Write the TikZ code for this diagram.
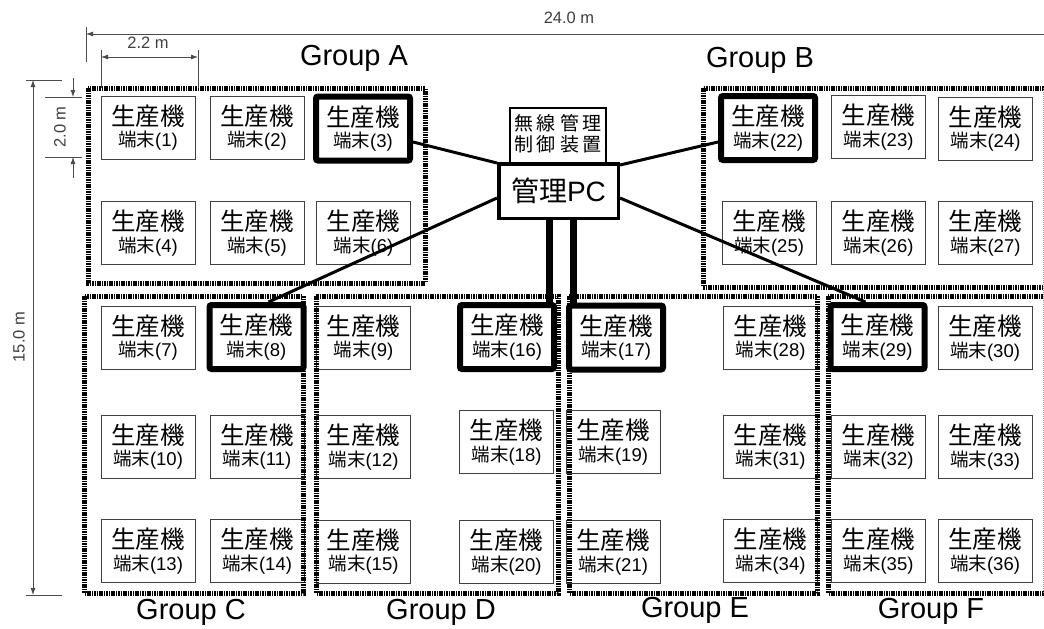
\documentclass[tikz,border=0pt]{standalone}
\usepackage{fontspec}
\setmainfont{Liberation Sans}
\newfontfamily\jp{Noto Sans CJK JP}
\usetikzlibrary{arrows.meta,calc}
\newcommand\mlab[1]{{\jp\fontsize{24.5}{21.5}\selectfont 生産機}\\{\fontsize{18.5}{21.5}\selectfont{\jp 端末}(#1)}}
\tikzset{
 mbox/.style={draw=black!75, line width=0.9pt, fill=white, minimum width=94pt, minimum height=63pt, inner sep=0pt, align=center, font=\fontsize{24.5}{21.5}\selectfont},
 tbox/.style={mbox, draw=black, line width=6pt, minimum height=64pt, rounded corners=2pt},
 grp/.style={draw=black, line width=5pt, dash pattern=on 1.6pt off 0.8pt},
 glabel/.style={font=\fontsize{29}{29}\selectfont},
 dim/.style={draw=black!70, line width=0.8pt},
 dimtip/.style={dim, -{Latex[length=7pt,width=5pt]}},
 dimtext/.style={font=\fontsize{16.5}{16.5}\selectfont, text=black!75, inner sep=0pt},
 link/.style={line width=3pt},
 bar/.style={line width=7pt},
}
\begin{document}
\begin{tikzpicture}[x=1pt,y=-1pt]
\useasboundingbox (0,0) rectangle (1044,629);
\fill[white] (0,0) rectangle (1044,629);

% machines
\node[mbox] (m1) at (148,127.5) {\mlab{1}};
\node[mbox] (m2) at (257,127.5) {\mlab{2}};
\node[tbox] (m3) at (363,128.5) {\mlab{3}};
\node[mbox] (m4) at (148,233) {\mlab{4}};
\node[mbox] (m5) at (257,233) {\mlab{5}};
\node[mbox] (m6) at (363.5,233) {\mlab{6}};
\node[mbox] (m7) at (148,337.5) {\mlab{7}};
\node[tbox] (m8) at (256.5,337) {\mlab{8}};
\node[mbox] (m9) at (363.5,337.5) {\mlab{9}};
\node[mbox] (m10) at (148,446.5) {\mlab{10}};
\node[mbox] (m11) at (257,446.5) {\mlab{11}};
\node[mbox] (m12) at (363.5,447) {\mlab{12}};
\node[mbox] (m13) at (148,551) {\mlab{13}};
\node[mbox] (m14) at (257,551) {\mlab{14}};
\node[mbox] (m15) at (363.5,551.5) {\mlab{15}};
\node[tbox] (m16) at (507,337) {\mlab{16}};
\node[tbox] (m17) at (616,337.5) {\mlab{17}};
\node[mbox] (m18) at (506.5,442) {\mlab{18}};
\node[mbox] (m19) at (613,442) {\mlab{19}};
\node[mbox] (m20) at (506.5,552) {\mlab{20}};
\node[mbox] (m21) at (613,552) {\mlab{21}};
\node[tbox] (m22) at (768,128) {\mlab{22}};
\node[mbox] (m23) at (878.5,127) {\mlab{23}};
\node[mbox] (m24) at (985.5,128.5) {\mlab{24}};
\node[mbox] (m25) at (769,233) {\mlab{25}};
\node[mbox] (m26) at (878.5,233) {\mlab{26}};
\node[mbox] (m27) at (985.5,233) {\mlab{27}};
\node[mbox] (m28) at (770.5,337.5) {\mlab{28}};
\node[tbox] (m29) at (877.5,337) {\mlab{29}};
\node[mbox] (m30) at (985,338) {\mlab{30}};
\node[mbox] (m31) at (770.5,446.5) {\mlab{31}};
\node[mbox] (m32) at (878.5,446.5) {\mlab{32}};
\node[mbox] (m33) at (985,447) {\mlab{33}};
\node[mbox] (m34) at (770.5,551) {\mlab{34}};
\node[mbox] (m35) at (878.5,551) {\mlab{35}};
\node[mbox] (m36) at (985,551) {\mlab{36}};

% groups
\draw[grp] (88,88) rectangle (425,283);
\draw[grp] (703,88) rectangle (1050,287);
\draw[grp] (84,296) rectangle (303,593);
\draw[grp] (316,296) rectangle (558,593);
\draw[grp] (569,296) rectangle (817,593);
\draw[grp] (828,296) rectangle (1050,593);
\draw[black!40, line width=0.6pt, dash pattern=on 1pt off 1pt] (1043,88) -- (1043,593);

\node[glabel] (ga) at (354,58) {Group A};
\node[glabel] (gb) at (760,60) {Group B};
\node[glabel] (gc) at (191,612) {Group C};
\node[glabel] (gd) at (441,612) {Group D};
\node[glabel] (ge) at (695,610) {Group E};
\node[glabel] (gf) at (931,611) {Group F};

% control unit and PC
\node[draw, line width=2pt, fill=white, minimum width=96pt, minimum height=56pt, inner sep=0pt, align=center, font=\jp\fontsize{19}{20}\selectfont] (wl) at (558,136)
  {\raisebox{4pt}{\begin{tabular}{@{}c@{}}無\hspace{4pt}線\hspace{4pt}管\hspace{4pt}理\\[-1pt]制\hspace{4pt}御\hspace{4pt}装\hspace{4pt}置\end{tabular}}};
\node[draw, line width=3.5pt, fill=white, minimum width=119.5pt, minimum height=54.5pt, inner sep=0pt, font=\fontsize{28}{28}\selectfont] (pc) at (558.5,191) {{\jp 管理}PC};

% links
\draw[link] ([yshift=-13.5pt]m3.east) -- ([yshift=-1pt]pc.north west);
\draw[link] ([yshift=-7pt]pc.west) -- ([xshift=12pt]m8.north);
\draw[link] ([yshift=26pt]pc.east) -- ([yshift=-14pt]m22.west);
\draw[link] ([yshift=-7pt]pc.east) -- ([xshift=-12pt]m29.north);
\draw[bar] ([xshift=-9.5pt]pc.south) -- ([xshift=-9.5pt]pc.south |- m16.north);
\draw[bar] ([xshift=14.5pt]pc.south) -- ([xshift=14.5pt]pc.south |- m17.north);

% dimensions
\coordinate (t1) at (86,27); \coordinate (t2) at (86,62);
\draw[dim] (t1) -- (t2);
\coordinate (d24a) at (86,34); \coordinate (d24b) at (1044,34);
\draw[dimtip] (d24b) -- (d24a);
\node[dimtext] (l24) at (569,18) {24.0 m};

\coordinate (u1) at (101,50); \coordinate (u2) at (101,88);
\coordinate (u3) at (198,50); \coordinate (u4) at (198,88);
\draw[dim] (u1) -- (u2); \draw[dim] (u3) -- (u4);
\coordinate (d22a) at (101,57); \coordinate (d22b) at (198,57);
\draw[dim, {Latex[length=7pt,width=5pt]}-{Latex[length=7pt,width=5pt]}] (d22a) -- (d22b);
\node[dimtext] (l22) at (148,43) {2.2 m};

\coordinate (v1) at (45,97); \coordinate (v2) at (82,97);
\coordinate (v3) at (45,157); \coordinate (v4) at (82,157);
\draw[dim] (v1) -- (v2); \draw[dim] (v3) -- (v4);
\coordinate (d20a) at (73,78); \coordinate (d20b) at (73,97);
\coordinate (d20c) at (73,178); \coordinate (d20d) at (73,157);
\draw[dimtip] (d20a) -- (d20b);
\draw[dimtip] (d20c) -- (d20d);
\node[dimtext, rotate=90] (l20) at (60,127) {2.0 m};

\coordinate (w1) at (26,80); \coordinate (w2) at (62,80);
\coordinate (w3) at (26,595); \coordinate (w4) at (62,595);
\draw[dim] (w1) -- (w2); \draw[dim] (w3) -- (w4);
\coordinate (d15a) at (33,80); \coordinate (d15b) at (33,595);
\draw[dim, {Latex[length=7pt,width=5pt]}-{Latex[length=7pt,width=5pt]}] (d15a) -- (d15b);
\node[dimtext, rotate=90] (l15) at (19,337) {15.0 m};
\end{tikzpicture}
\end{document}
